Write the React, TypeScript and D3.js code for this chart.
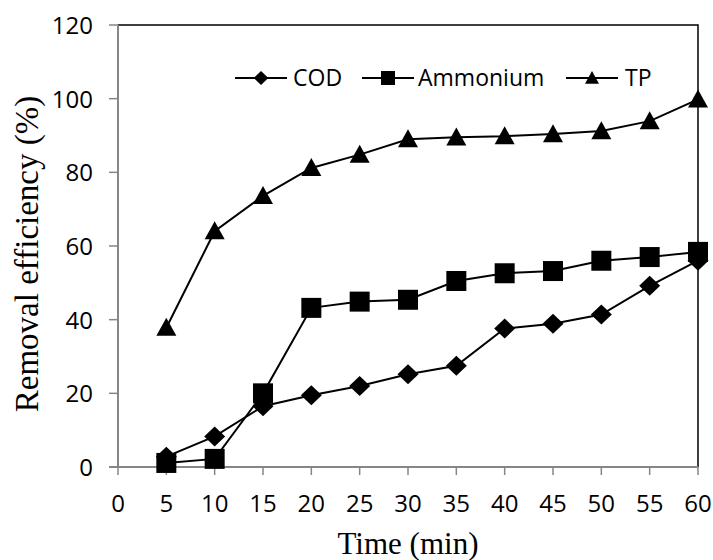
import React from 'react';
import * as d3 from 'd3';

// time points (min)
const times = [5, 10, 15, 20, 25, 30, 35, 40, 45, 50, 55, 60];
// removal efficiency (%)
const codValues = [2.8, 8.3, 16.5, 19.5, 22, 25.2, 27.5, 37.6, 38.9, 41.4, 49.2, 56];
const ammoniumValues = [1.1, 2.2, 20, 43.2, 44.9, 45.4, 50.5, 52.6, 53.2, 56, 57, 58.4];
const tpValues = [37.8, 64, 73.6, 81.2, 84.8, 89, 89.5, 89.8, 90.4, 91.2, 93.9, 99.8];

const xTicks = [0, 5, 10, 15, 20, 25, 30, 35, 40, 45, 50, 55, 60];
const yTicks = [0, 20, 40, 60, 80, 100, 120];

const seriesNames = ['COD', 'Ammonium', 'TP'];
const seriesShapes = ['diamond', 'square', 'triangle'];

const W = 713;
const H = 560;
const margin = { left: 118, right: 15, top: 25, bottom: 93 };

const tickFont = '"Open Sans", "Noto Sans", sans-serif';
const titleFont = '"Liberation Serif", "Times New Roman", serif';

// marker path centred on 0,0; s = half-size
function markerPath(shape: string, s: number): string {
  if (shape === 'diamond') {
    return `M0,${-s}L${s * 1.05},0L0,${s}L${-s * 1.05},0Z`;
  }
  if (shape === 'square') {
    return `M${-s},${-s}H${s}V${s}H${-s}Z`;
  }
  // triangle
  const h = s * 1.8;
  return `M0,${-h * 0.55}L${s},${h * 0.45}L${-s},${h * 0.45}Z`;
}

export default function App() {
  const x = d3.scaleLinear().domain([0, 60]).range([margin.left, W - margin.right]);
  const y = d3.scaleLinear().domain([0, 120]).range([H - margin.bottom, margin.top]);

  const series = [codValues, ammoniumValues, tpValues].map((vals, i) => ({
    name: seriesNames[i],
    shape: seriesShapes[i],
    points: times.map((t, j) => ({ t, v: vals[j] })),
  }));

  const line = d3
    .line<{ t: number; v: number }>()
    .x((d) => x(d.t))
    .y((d) => y(d.v));

  const x0 = x(0);
  const x1 = x(60);
  const y0 = y(0);
  const y1 = y(120);

  // legend layout
  const legendY = 78;
  const legendItems = [
    { lineStart: 235, textX: 293 },
    { lineStart: 362, textX: 418 },
    { lineStart: 566, textX: 625 },
  ];

  return (
    <svg
      width={W}
      height={H}
      style={{ position: 'absolute', left: 0, top: 0, background: '#fff' }}
    >
      {/* plot frame: top and right in black */}
      <path d={`M${x0},${y1}H${x1}V${y0}`} fill="none" stroke="#000" strokeWidth={1.5} />

      {/* y axis */}
      <line x1={x0} x2={x0} y1={y1} y2={y0} stroke="#868686" strokeWidth={2} />
      {yTicks.map((t) => (
        <g key={'y' + t}>
          <line x1={x0 - 9} x2={x0} y1={y(t)} y2={y(t)} stroke="#868686" strokeWidth={1.5} />
          <text
            x={x0 - 25}
            y={y(t)}
            dy="0.37em"
            textAnchor="end"
            fontFamily={tickFont}
            fontSize={24}
            fill="#000"
          >
            {t}
          </text>
        </g>
      ))}

      {/* x axis */}
      <line x1={x0 - 9} x2={x1} y1={y0} y2={y0} stroke="#868686" strokeWidth={2} />
      {xTicks.map((t) => (
        <g key={'x' + t}>
          <line x1={x(t)} x2={x(t)} y1={y0} y2={y0 + 8} stroke="#868686" strokeWidth={1.5} />
          <text
            x={x(t)}
            y={y0 + 45}
            textAnchor="middle"
            fontFamily={tickFont}
            fontSize={24}
            fill="#000"
          >
            {t}
          </text>
        </g>
      ))}

      {/* axis titles */}
      <text
        x={(x0 + x1) / 2}
        y={554}
        textAnchor="middle"
        fontFamily={titleFont}
        fontSize={31}
        fill="#000"
      >
        Time (min)
      </text>
      <text
        transform={`translate(38,${(y0 + y1) / 2 + 8}) rotate(-90)`}
        textAnchor="middle"
        fontFamily={titleFont}
        fontSize={33}
        fill="#000"
      >
        Removal efficiency (%)
      </text>

      {/* series */}
      {series.map((s) => (
        <g key={s.name}>
          <path d={line(s.points) || ''} fill="none" stroke="#000" strokeWidth={2} />
          {s.points.map((p) => (
            <path
              key={p.t}
              d={markerPath(s.shape, 10)}
              transform={`translate(${x(p.t)},${y(p.v)})`}
              fill="#000"
            />
          ))}
        </g>
      ))}

      {/* legend */}
      {series.map((s, i) => {
        const it = legendItems[i];
        const mx = it.lineStart + 26;
        return (
          <g key={'leg' + s.name}>
            <line
              x1={it.lineStart}
              x2={it.lineStart + 52}
              y1={legendY}
              y2={legendY}
              stroke="#000"
              strokeWidth={2}
            />
            <path d={markerPath(s.shape, 7)} transform={`translate(${mx},${legendY})`} fill="#000" />
            <text
              x={it.textX}
              y={legendY}
              dy="0.36em"
              fontFamily={tickFont}
              fontSize={23}
              fill="#000"
            >
              {s.name}
            </text>
          </g>
        );
      })}
    </svg>
  );
}
